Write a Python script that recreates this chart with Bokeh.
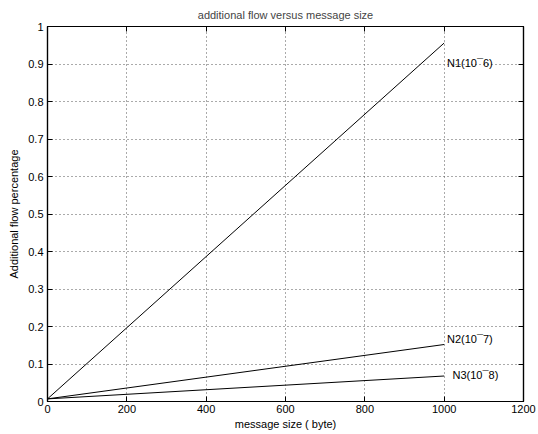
from bokeh.plotting import figure
from bokeh.models import ColumnDataSource, LinearAxis, Range1d, FixedTicker, CustomLabelingPolicy
from bokeh.embed import file_html
from bokeh.resources import INLINE
from bokeh.core.properties import value

# data
msg_size = [0, 1000]
n1 = [0.007, 0.956]
n2 = [0.007, 0.152]
n3 = [0.007, 0.068]
labels = ["N1(10¯6)", "N2(10¯7)", "N3(10¯8)"]
label_x = [1007, 1007, 1021]
label_y = [0.902, 0.168, 0.072]
x_ticks = [0, 200, 400, 600, 800, 1000, 1200]
y_ticks = [0, 0.1, 0.2, 0.3, 0.4, 0.5, 0.6, 0.7, 0.8, 0.9, 1]

FONT = "Liberation Sans"
FS = "11px"

p = figure(width=536, height=432, output_backend="svg", toolbar_location=None,
           x_range=Range1d(0, 1200), y_range=Range1d(0, 1),
           title="additional flow versus message size",
           min_border_left=47, min_border_right=13, min_border_top=26, min_border_bottom=30)

p.title.text_font = FONT
p.title.text_font_size = FS
p.title.text_font_style = "normal"
p.title.align = "center"
p.title.vertical_align = "top"
p.title.standoff = 8
p.title.offset = 0

p.outline_line_color = "black"
p.outline_line_width = 1.2
p.background_fill_color = "white"
p.border_fill_color = "white"

for ax in (p.xaxis[0], p.yaxis[0]):
    ax.major_tick_in = 5
    ax.major_tick_out = 0
    ax.minor_tick_in = 0
    ax.minor_tick_out = 0
    ax.axis_line_color = "black"
    ax.axis_line_width = 1.2
    ax.major_label_text_font = FONT
    ax.major_label_text_font_size = FS
    ax.major_label_text_color = "black"
    ax.axis_label_text_font = FONT
    ax.axis_label_text_font_size = FS
    ax.axis_label_text_font_style = "normal"
    ax.axis_label_text_color = "black"

p.xaxis[0].ticker = FixedTicker(ticks=x_ticks)
p.yaxis[0].ticker = FixedTicker(ticks=y_ticks)
p.yaxis[0].major_label_overrides = {0: "0", 1: "1"}
p.xaxis[0].axis_label = "message size ( byte)"
p.yaxis[0].axis_label = "Additional flow percentage"
p.xaxis[0].major_label_standoff = 3
p.xaxis[0].axis_label_standoff = 2
p.yaxis[0].major_label_standoff = 4
p.yaxis[0].axis_label_standoff = 5

# mirrored axes (top/right) with inside ticks, no labels
def mirror_axis(ticks):
    return LinearAxis(ticker=FixedTicker(ticks=ticks),
                      major_label_policy=CustomLabelingPolicy(code="return new Set()"),
                      major_label_overrides={t: "" for t in ticks},
                      major_label_text_font_size="1px",
                      major_tick_in=5, major_tick_out=0, minor_tick_in=0, minor_tick_out=0,
                      axis_line_color="black", axis_line_width=1.2, major_label_standoff=0)

p.add_layout(mirror_axis(x_ticks), "above")
p.add_layout(mirror_axis(y_ticks), "right")

p.xgrid.ticker = FixedTicker(ticks=x_ticks)
p.ygrid.ticker = FixedTicker(ticks=y_ticks)
for g in (p.xgrid, p.ygrid):
    g.grid_line_color = "#555555"
    g.grid_line_dash = "1 3"
    g.grid_line_width = 1

for ys in (n1, n2, n3):
    p.line(msg_size, ys, line_color="black", line_width=1)

src = ColumnDataSource(dict(x=label_x, y=label_y, t=labels))
p.text(x="x", y="y", text="t", source=src, text_font=value(FONT), text_font_size=FS,
       text_color="black", text_baseline="middle", text_align="left")

open("out.html", "w").write(file_html(p, INLINE))
